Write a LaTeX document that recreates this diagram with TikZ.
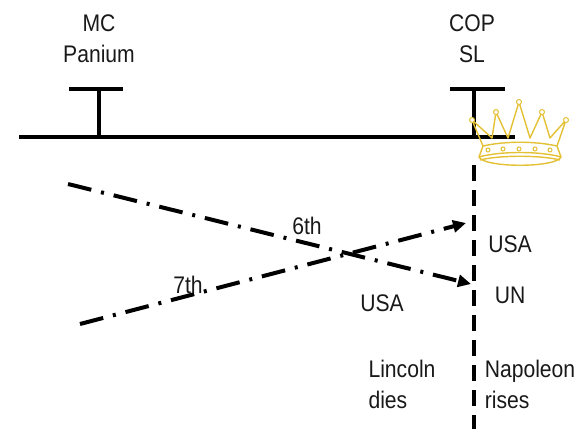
\documentclass[tikz,border=0pt]{standalone}
\usepackage{fontspec}
\setmainfont{Liberation Sans}[FakeStretch=0.88]
\usetikzlibrary{arrows.meta}
\definecolor{crowngold}{RGB}{228,192,52}
\begin{document}
\begin{tikzpicture}[x=1pt,y=-1pt,
    lbl/.style={font=\fontsize{24}{31}\selectfont, inner sep=0pt, text=black!90},
    bar/.style={line width=4pt},
    era/.style={line width=4.5pt, dash pattern=on 16pt off 9pt},
    reign/.style={line width=4pt, dash pattern=on 24pt off 10pt on 3pt off 10pt,
        -{Triangle[length=13pt,width=12pt]}},
    gold/.style={draw=crowngold, line width=1.4pt, line join=round},
    gem/.style={draw=crowngold, fill=white, line width=1pt}]
    \useasboundingbox (0,0) rectangle (585,429);
    \coordinate (tlstart) at (19,137);
    \coordinate (tlend) at (515,137);
    \coordinate (mcfoot) at (99,137);
    \coordinate (mctop) at (99,89);
    \coordinate (copfoot) at (474,137);
    \coordinate (coptop) at (474,89);
    \coordinate (copbottom) at (474,429);
    \coordinate (sixthstart) at (68,184);
    \coordinate (sixthend) at (471,284);
    \coordinate (seventhstart) at (80,324);
    \coordinate (seventhend) at (466,223);
    \draw[bar] (tlstart) -- (tlend);
    \draw[bar] (mcfoot) -- (mctop) ++(-30,0) -- ++(54,0);
    \draw[bar] (copfoot) -- (coptop) ++(-24,0) -- ++(55,0);
    \draw[era] (474,165) -- (copbottom);
    \draw[reign] (sixthstart) -- (sixthend);
    \draw[reign] (seventhstart) -- (seventhend);
    \draw[gold] (483,146) -- (472,120) -- (492,138) -- (496,112) -- (508,138)
        -- (519,102) -- (530,138) -- (542,112) -- (550,138) -- (566,120) -- (557,146);
    \draw[gold] (483,146) .. controls (505,141) and (535,141) .. (557,146);
    \draw[gold] (483,146) -- (479,157) .. controls (500,151) and (540,151) .. (561,157) -- (557,146);
    \draw[gold] (480,160) .. controls (500,155) and (540,155) .. (560,160);
    \draw[gold] (479,157) .. controls (484,168) and (556,168) .. (561,157);
    \draw[gem] (472,120) circle[radius=2.5pt] (496,112) circle[radius=2.5pt]
        (519,102) circle[radius=2.5pt] (542,112) circle[radius=2.5pt] (566,120) circle[radius=2.5pt];
    \draw[gem] (488,150) circle[radius=2pt] (503,149) circle[radius=2pt] (519,149) circle[radius=2pt]
        (535,149) circle[radius=2pt] (550,150) circle[radius=2pt];
    \node[lbl, align=center] (mc) at (99,39) {MC\\Panium};
    \node[lbl, align=center] (cop) at (472,39) {COP\\SL};
    \node[lbl] (sixth) at (307,226) {6th};
    \node[lbl] (seventh) at (188,285) {7th};
    \node[lbl] (usaleft) at (382,303) {USA};
    \node[lbl] (usaright) at (510,244) {USA};
    \node[lbl] (un) at (510,295) {UN};
    \node[lbl, align=left] (lincoln) at (402,384) {Lincoln\\dies};
    \node[lbl, align=left] (napoleon) at (530,384) {Napoleon\\rises};
\end{tikzpicture}
\end{document}
